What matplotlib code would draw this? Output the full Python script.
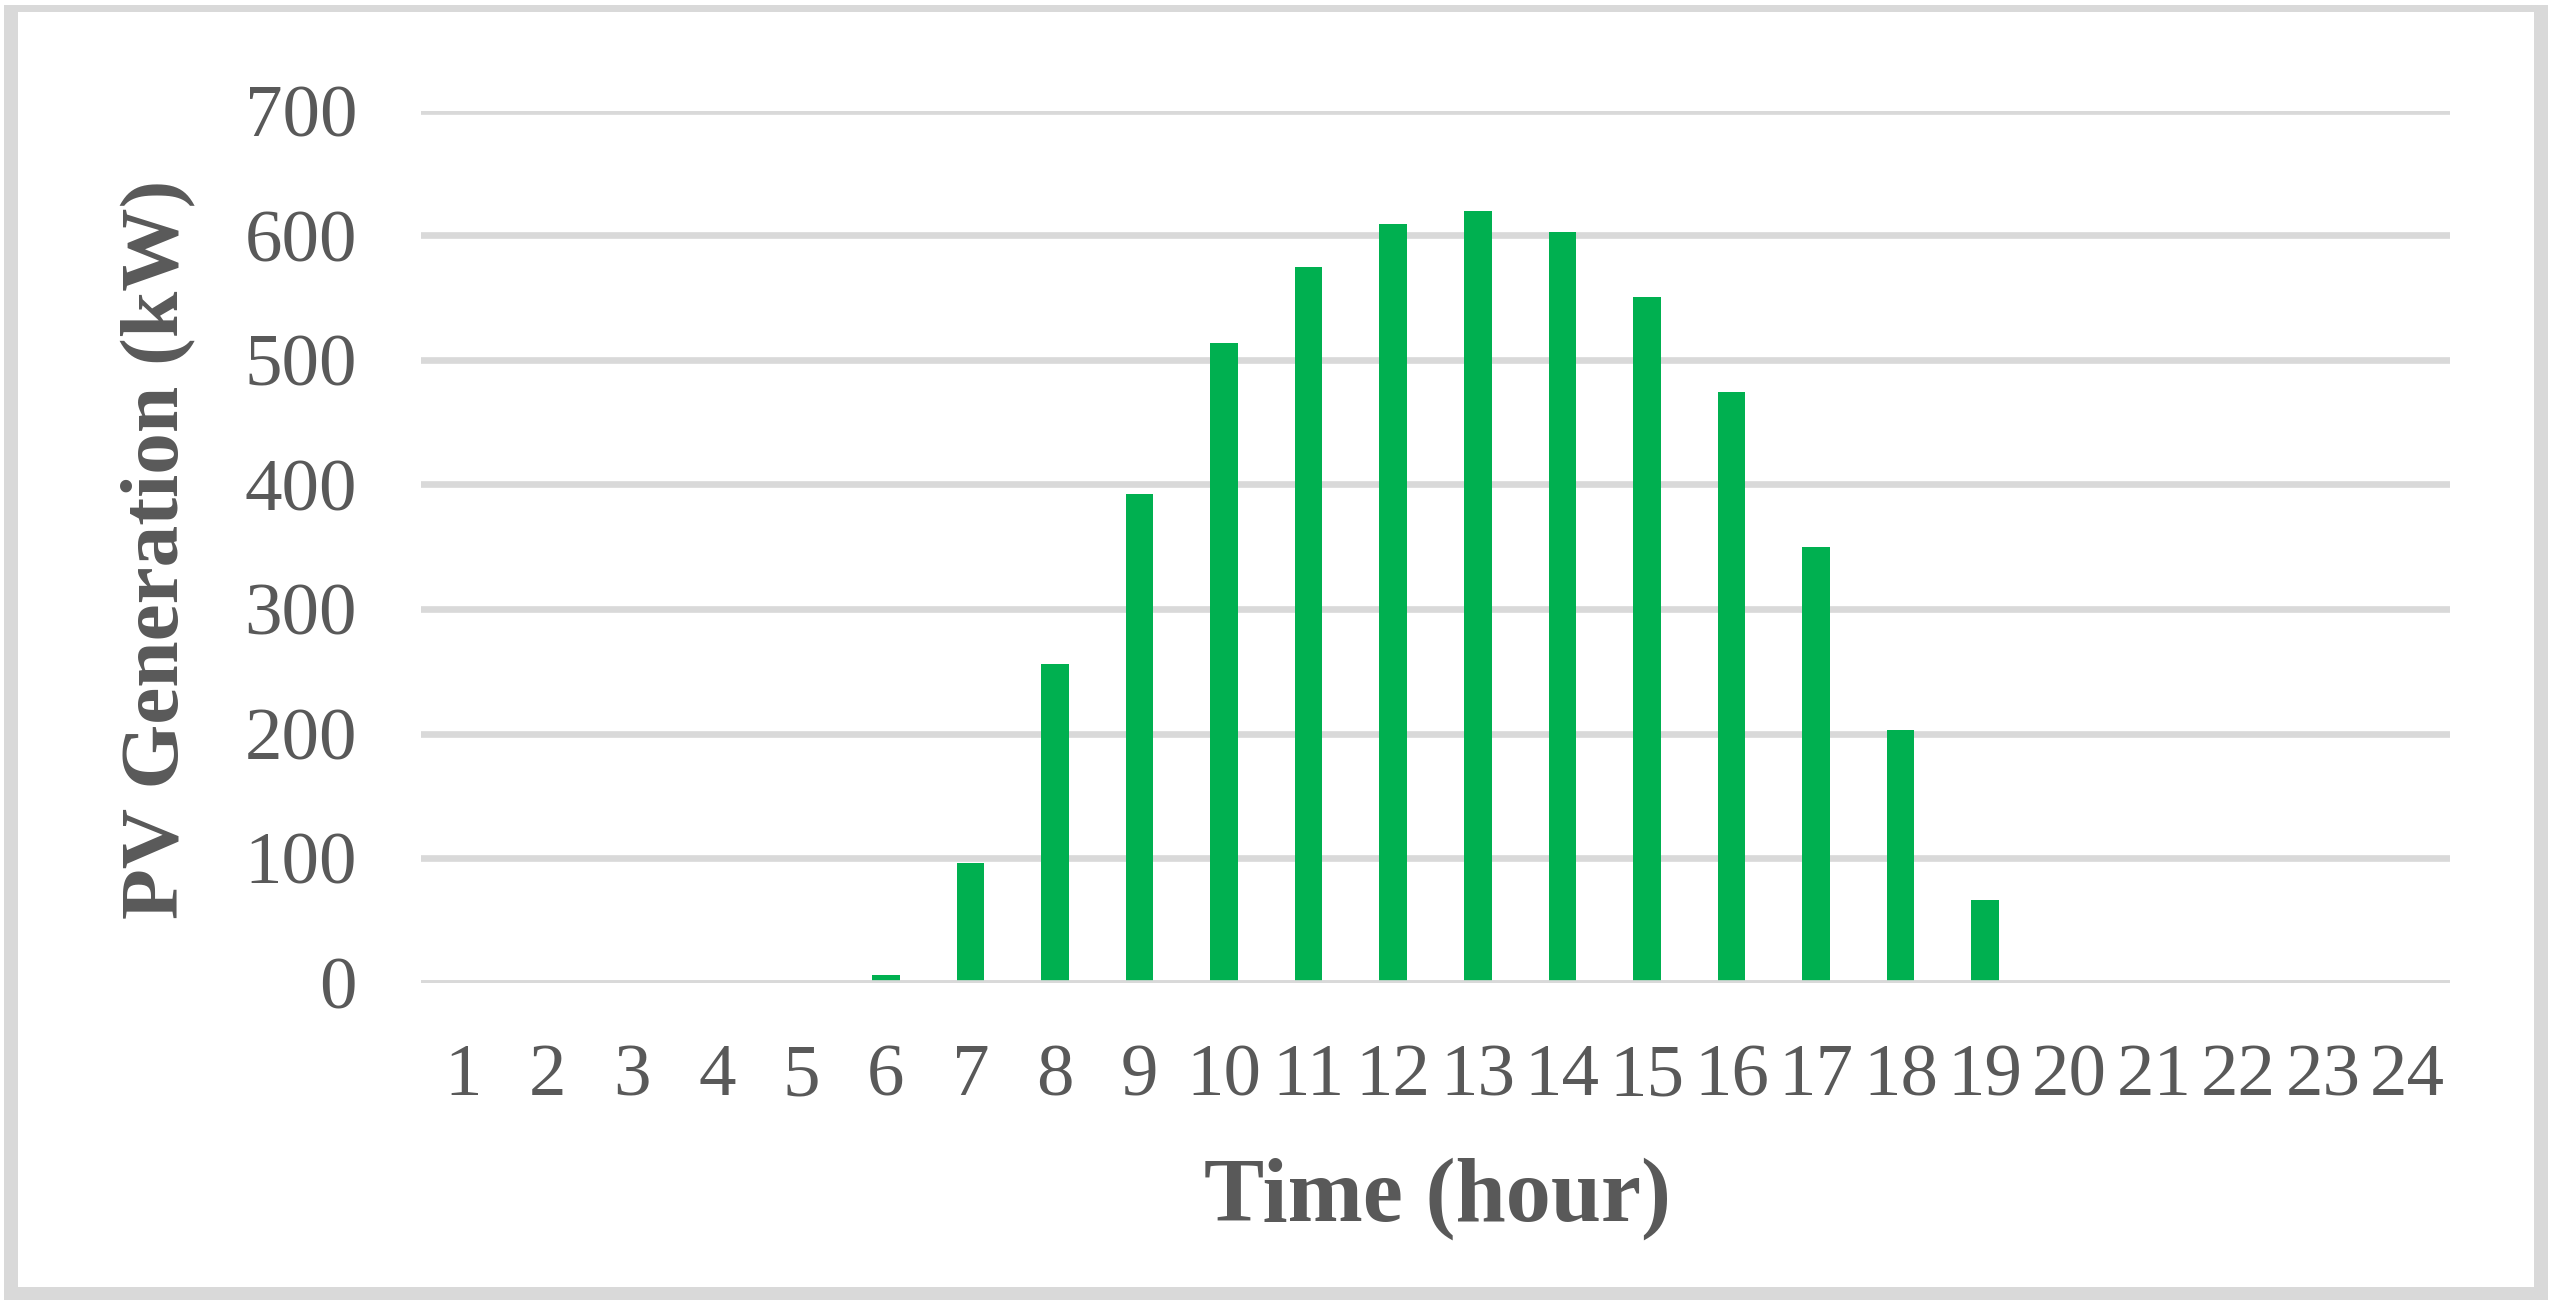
import matplotlib
matplotlib.use("Agg")
import matplotlib.pyplot as plt
from matplotlib.patches import Rectangle

# hourly PV output
hours = list(range(1, 25))
pv_kw = [0, 0, 0, 0, 0, 6, 96, 256, 392, 514, 575, 609,
         620, 603, 551, 474, 350, 203, 66, 0, 0, 0, 0, 0]
yticks = [0, 100, 200, 300, 400, 500, 600, 700]

txt = "#595959"
grid = "#D9D9D9"
green = "#00B050"

plt.rcParams["font.family"] = ["Liberation Serif", "DejaVu Serif"]

W, H = 2555, 1307
fig = plt.figure(figsize=(W / 100, H / 100), dpi=100)
ax = fig.add_axes([421 / W, 1 - 982.5 / H, (2450 - 421) / W, (982.5 - 111) / H])

ax.bar(hours, pv_kw, width=0.325, color=green, zorder=3)
ax.axhline(0, color=grid, lw=4.8, zorder=4)

ax.set_xlim(0.5, 24.5)
ax.set_ylim(0, 700)
ax.set_xticks(hours)
ax.set_xticklabels([str(h) for h in hours])
ax.set_yticks(yticks)
ax.yaxis.grid(True, color=grid, lw=4.8, zorder=0)
ax.set_axisbelow(True)
for s in ax.spines.values():
    s.set_visible(False)
ax.tick_params(axis="both", length=0, labelsize=54, labelcolor=txt)
ax.tick_params(axis="x", pad=44)
ax.tick_params(axis="y", pad=46)

fig.text(0.062, 0.580, "PV Generation (kW)", rotation=90, rotation_mode="anchor",
         ha="center", va="center", fontsize=60, fontweight="bold", color=txt)
fig.text(0.5625, 1 - 1220.7 / H, "Time (hour)", ha="center", va="baseline",
         fontsize=65, fontweight="bold", color=txt)

# chart frame
for x0, y0, w, h in [(4, 5, 2544, 7), (4, 1287, 2544, 13), (4, 5, 14, 1295), (2534, 5, 14, 1295)]:
    fig.patches.append(Rectangle((x0 / W, 1 - (y0 + h) / H), w / W, h / H,
                                 transform=fig.transFigure, color=grid, lw=0))

fig.savefig("out.png", dpi=100, facecolor="white")
